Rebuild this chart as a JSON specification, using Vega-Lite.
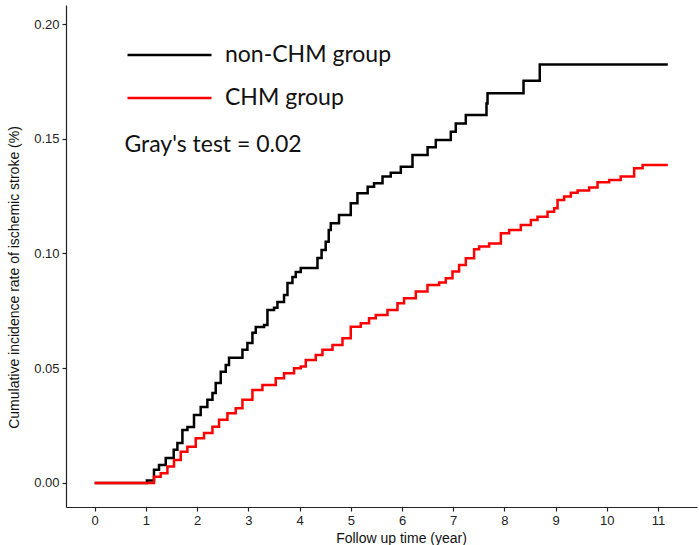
{
  "$schema": "https://vega.github.io/schema/vega-lite/v6.json",
  "width": 631,
  "height": 502,
  "autosize": "none",
  "padding": {"left": 66, "top": 5, "right": 2, "bottom": 38},
  "background": "white",
  "data": {
    "values": [
      {"time": 0, "rate": 0, "group": "non-CHM group"},
      {"time": 1.02, "rate": 0.001, "group": "non-CHM group"},
      {"time": 1.158, "rate": 0.0057, "group": "non-CHM group"},
      {"time": 1.256, "rate": 0.0078, "group": "non-CHM group"},
      {"time": 1.387, "rate": 0.0109, "group": "non-CHM group"},
      {"time": 1.543, "rate": 0.0144, "group": "non-CHM group"},
      {"time": 1.615, "rate": 0.0174, "group": "non-CHM group"},
      {"time": 1.713, "rate": 0.0231, "group": "non-CHM group"},
      {"time": 1.811, "rate": 0.0244, "group": "non-CHM group"},
      {"time": 1.939, "rate": 0.0296, "group": "non-CHM group"},
      {"time": 2.07, "rate": 0.0331, "group": "non-CHM group"},
      {"time": 2.2, "rate": 0.0362, "group": "non-CHM group"},
      {"time": 2.3, "rate": 0.0392, "group": "non-CHM group"},
      {"time": 2.363, "rate": 0.0436, "group": "non-CHM group"},
      {"time": 2.461, "rate": 0.0484, "group": "non-CHM group"},
      {"time": 2.559, "rate": 0.0514, "group": "non-CHM group"},
      {"time": 2.623, "rate": 0.0545, "group": "non-CHM group"},
      {"time": 2.885, "rate": 0.058, "group": "non-CHM group"},
      {"time": 2.982, "rate": 0.061, "group": "non-CHM group"},
      {"time": 3.08, "rate": 0.0654, "group": "non-CHM group"},
      {"time": 3.145, "rate": 0.068, "group": "non-CHM group"},
      {"time": 3.307, "rate": 0.0688, "group": "non-CHM group"},
      {"time": 3.373, "rate": 0.0754, "group": "non-CHM group"},
      {"time": 3.502, "rate": 0.0763, "group": "non-CHM group"},
      {"time": 3.568, "rate": 0.0789, "group": "non-CHM group"},
      {"time": 3.697, "rate": 0.0819, "group": "non-CHM group"},
      {"time": 3.764, "rate": 0.0871, "group": "non-CHM group"},
      {"time": 3.861, "rate": 0.0898, "group": "non-CHM group"},
      {"time": 3.926, "rate": 0.0919, "group": "non-CHM group"},
      {"time": 4.023, "rate": 0.0937, "group": "non-CHM group"},
      {"time": 4.35, "rate": 0.098, "group": "non-CHM group"},
      {"time": 4.43, "rate": 0.1015, "group": "non-CHM group"},
      {"time": 4.51, "rate": 0.1051, "group": "non-CHM group"},
      {"time": 4.57, "rate": 0.1102, "group": "non-CHM group"},
      {"time": 4.61, "rate": 0.1132, "group": "non-CHM group"},
      {"time": 4.77, "rate": 0.1168, "group": "non-CHM group"},
      {"time": 5.0, "rate": 0.1219, "group": "non-CHM group"},
      {"time": 5.13, "rate": 0.1262, "group": "non-CHM group"},
      {"time": 5.33, "rate": 0.1291, "group": "non-CHM group"},
      {"time": 5.455, "rate": 0.1306, "group": "non-CHM group"},
      {"time": 5.62, "rate": 0.1335, "group": "non-CHM group"},
      {"time": 5.78, "rate": 0.1352, "group": "non-CHM group"},
      {"time": 5.977, "rate": 0.1378, "group": "non-CHM group"},
      {"time": 6.205, "rate": 0.1429, "group": "non-CHM group"},
      {"time": 6.5, "rate": 0.1463, "group": "non-CHM group"},
      {"time": 6.66, "rate": 0.1495, "group": "non-CHM group"},
      {"time": 6.953, "rate": 0.1531, "group": "non-CHM group"},
      {"time": 7.05, "rate": 0.1567, "group": "non-CHM group"},
      {"time": 7.246, "rate": 0.1604, "group": "non-CHM group"},
      {"time": 7.65, "rate": 0.1654, "group": "non-CHM group"},
      {"time": 7.67, "rate": 0.1698, "group": "non-CHM group"},
      {"time": 8.373, "rate": 0.1753, "group": "non-CHM group"},
      {"time": 8.69, "rate": 0.1824, "group": "non-CHM group"},
      {"time": 11.19, "rate": 0.1824, "group": "non-CHM group"},
      {"time": 0, "rate": 0, "group": "CHM group"},
      {"time": 1.03, "rate": 0, "group": "CHM group"},
      {"time": 1.158, "rate": 0.0027, "group": "CHM group"},
      {"time": 1.289, "rate": 0.0042, "group": "CHM group"},
      {"time": 1.42, "rate": 0.0071, "group": "CHM group"},
      {"time": 1.549, "rate": 0.01, "group": "CHM group"},
      {"time": 1.68, "rate": 0.0136, "group": "CHM group"},
      {"time": 1.81, "rate": 0.0158, "group": "CHM group"},
      {"time": 1.973, "rate": 0.0195, "group": "CHM group"},
      {"time": 2.135, "rate": 0.0217, "group": "CHM group"},
      {"time": 2.299, "rate": 0.0245, "group": "CHM group"},
      {"time": 2.428, "rate": 0.0275, "group": "CHM group"},
      {"time": 2.592, "rate": 0.0304, "group": "CHM group"},
      {"time": 2.754, "rate": 0.0325, "group": "CHM group"},
      {"time": 2.885, "rate": 0.0362, "group": "CHM group"},
      {"time": 3.08, "rate": 0.0405, "group": "CHM group"},
      {"time": 3.275, "rate": 0.0427, "group": "CHM group"},
      {"time": 3.535, "rate": 0.0456, "group": "CHM group"},
      {"time": 3.697, "rate": 0.0478, "group": "CHM group"},
      {"time": 3.893, "rate": 0.05, "group": "CHM group"},
      {"time": 4.023, "rate": 0.0507, "group": "CHM group"},
      {"time": 4.121, "rate": 0.0536, "group": "CHM group"},
      {"time": 4.316, "rate": 0.0558, "group": "CHM group"},
      {"time": 4.447, "rate": 0.058, "group": "CHM group"},
      {"time": 4.643, "rate": 0.0601, "group": "CHM group"},
      {"time": 4.838, "rate": 0.063, "group": "CHM group"},
      {"time": 5.0, "rate": 0.0681, "group": "CHM group"},
      {"time": 5.195, "rate": 0.0696, "group": "CHM group"},
      {"time": 5.357, "rate": 0.0718, "group": "CHM group"},
      {"time": 5.488, "rate": 0.0732, "group": "CHM group"},
      {"time": 5.717, "rate": 0.0754, "group": "CHM group"},
      {"time": 5.912, "rate": 0.0783, "group": "CHM group"},
      {"time": 6.041, "rate": 0.0805, "group": "CHM group"},
      {"time": 6.27, "rate": 0.0834, "group": "CHM group"},
      {"time": 6.498, "rate": 0.0863, "group": "CHM group"},
      {"time": 6.725, "rate": 0.0873, "group": "CHM group"},
      {"time": 6.855, "rate": 0.0892, "group": "CHM group"},
      {"time": 6.986, "rate": 0.0921, "group": "CHM group"},
      {"time": 7.115, "rate": 0.095, "group": "CHM group"},
      {"time": 7.246, "rate": 0.0979, "group": "CHM group"},
      {"time": 7.408, "rate": 0.1018, "group": "CHM group"},
      {"time": 7.506, "rate": 0.103, "group": "CHM group"},
      {"time": 7.701, "rate": 0.1044, "group": "CHM group"},
      {"time": 7.93, "rate": 0.1088, "group": "CHM group"},
      {"time": 8.092, "rate": 0.1102, "group": "CHM group"},
      {"time": 8.32, "rate": 0.1124, "group": "CHM group"},
      {"time": 8.516, "rate": 0.1146, "group": "CHM group"},
      {"time": 8.646, "rate": 0.116, "group": "CHM group"},
      {"time": 8.842, "rate": 0.1182, "group": "CHM group"},
      {"time": 8.971, "rate": 0.1197, "group": "CHM group"},
      {"time": 9.037, "rate": 0.1233, "group": "CHM group"},
      {"time": 9.166, "rate": 0.1248, "group": "CHM group"},
      {"time": 9.297, "rate": 0.1265, "group": "CHM group"},
      {"time": 9.428, "rate": 0.1274, "group": "CHM group"},
      {"time": 9.654, "rate": 0.1288, "group": "CHM group"},
      {"time": 9.818, "rate": 0.131, "group": "CHM group"},
      {"time": 10.045, "rate": 0.132, "group": "CHM group"},
      {"time": 10.27, "rate": 0.1335, "group": "CHM group"},
      {"time": 10.533, "rate": 0.1371, "group": "CHM group"},
      {"time": 10.697, "rate": 0.1386, "group": "CHM group"},
      {"time": 11.19, "rate": 0.1386, "group": "CHM group"}
    ]
  },
  "layer": [
    {
      "mark": {"type": "line", "interpolate": "step-after", "strokeWidth": 2.5},
      "encoding": {
        "x": {
          "field": "time",
          "type": "quantitative",
          "scale": {"domain": [-0.56, 11.76], "nice": false, "zero": false},
          "axis": {
            "values": [0, 1, 2, 3, 4, 5, 6, 7, 8, 9, 10, 11],
            "format": "d",
            "title": "Follow up time (year)",
            "titleX": 335,
            "titlePadding": 4
          }
        },
        "y": {
          "field": "rate",
          "type": "quantitative",
          "scale": {"domain": [-0.0105, 0.2083], "nice": false, "zero": false},
          "axis": {
            "values": [0, 0.05, 0.1, 0.15, 0.2],
            "format": ".2f",
            "title": "Cumulative incidence rate of ischemic stroke (%)",
            "titleX": -45,
            "titleY": 272
          }
        },
        "color": {
          "field": "group",
          "type": "nominal",
          "sort": ["non-CHM group", "CHM group"],
          "scale": {"domain": ["non-CHM group", "CHM group"], "range": ["#000000", "#ff0000"]},
          "legend": {
            "title": null,
            "orient": "none",
            "legendX": 60,
            "legendY": 39,
            "symbolType": "stroke",
            "symbolSize": 7056,
            "symbolStrokeWidth": 2.5,
            "clipHeight": 22,
            "rowPadding": 20,
            "labelOffset": 12,
            "labelLimit": 0,
            "labelFont": "Lato",
            "labelFontSize": 23,
            "labelColor": "#111111",
            "padding": 0
          }
        }
      }
    },
    {
      "data": {"values": [{"label": "Gray's test = 0.02", "time": 0.58, "rate": 0.1473}]},
      "mark": {"type": "text", "align": "left", "baseline": "middle", "font": "Lato", "fontSize": 23, "color": "#111111"},
      "encoding": {
        "x": {"field": "time", "type": "quantitative"},
        "y": {"field": "rate", "type": "quantitative"},
        "text": {"field": "label"}
      }
    }
  ],
  "config": {
    "view": {"stroke": null},
    "axis": {
      "grid": false,
      "domainColor": "#222222",
      "domainWidth": 1.2,
      "tickColor": "#222222",
      "tickSize": 4,
      "tickWidth": 1.2,
      "labelFont": "Liberation Sans",
      "labelFontSize": 13,
      "labelColor": "#222222",
      "labelPadding": 3,
      "titleFont": "Liberation Sans",
      "titleFontSize": 14,
      "titleFontWeight": "normal",
      "titleColor": "#111111"
    }
  }
}
